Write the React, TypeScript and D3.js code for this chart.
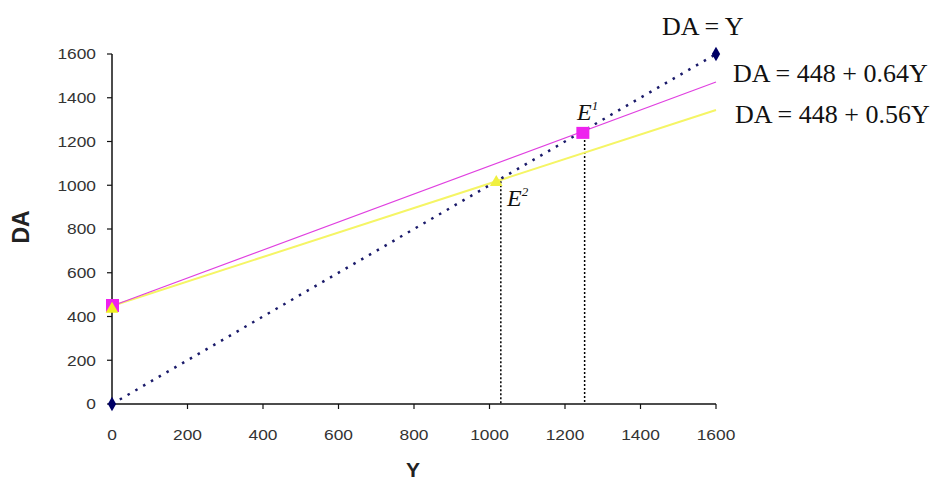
import React from "react";
import * as d3 from "d3";

const xTicks = [0, 200, 400, 600, 800, 1000, 1200, 1400, 1600];
const yTicks = [0, 200, 400, 600, 800, 1000, 1200, 1400, 1600];

// DA = Y (45-degree line)
const diagonalPts: [number, number][] = [[0, 0], [1600, 1600]];
// DA = 448 + 0.64Y
const daHighPts: [number, number][] = [[0, 448], [1600, 1472]];
// DA = 448 + 0.56Y
const daLowPts: [number, number][] = [[0, 448], [1600, 1344]];
// equilibria (marker position) and drop-line positions
const eq1: [number, number] = [1246, 1244];
const eq1Drop = 1252;
const eq2: [number, number] = [1018, 1018];
const eq2Drop = 1030;

const labels = {
  diag: "DA = Y",
  high: "DA = 448 + 0.64Y",
  low: "DA = 448 + 0.56Y",
  xTitle: "Y",
  yTitle: "DA",
};

export default function App() {
  const W = 948, H = 483;
  const x = d3.scaleLinear().domain([0, 1600]).range([112, 716]);
  const y = d3.scaleLinear().domain([0, 1600]).range([404, 54]);
  const line = d3.line<[number, number]>().x(d => x(d[0])).y(d => y(d[1]));
  const sansFont = "'Liberation Sans', Arial, sans-serif";
  const serifFont = "'Liberation Serif', 'Times New Roman', serif";
  const tri = d3.symbol().type(d3.symbolTriangle).size(70)();
  const diamond = d3.symbol().type(d3.symbolDiamond).size(60)();
  const tickStretch = 1.12;

  return (
    <svg width={W} height={H} style={{ position: "absolute", left: 0, top: 0, background: "#fff" }}>
      {/* axes */}
      <line x1={x(0)} x2={x(0)} y1={y(0)} y2={y(1600)} stroke="#111" strokeWidth={1.5} />
      <line x1={x(0)} x2={x(1600)} y1={y(0)} y2={y(0)} stroke="#111" strokeWidth={1.5} />
      {yTicks.map(t => (
        <g key={"y" + t}>
          <line x1={x(0) - 5} x2={x(0)} y1={y(t)} y2={y(t)} stroke="#111" strokeWidth={1.2} />
          <text transform={`translate(${x(0) - 16},${y(t)}) scale(${tickStretch},1)`} dy="0.35em" textAnchor="end" fontFamily={sansFont} fontSize={15.5} fill="#333">{t}</text>
        </g>
      ))}
      {xTicks.map(t => (
        <g key={"x" + t}>
          <line x1={x(t)} x2={x(t)} y1={y(0)} y2={y(0) + 5} stroke="#111" strokeWidth={1.2} />
          <text transform={`translate(${x(t)},${y(0) + 31}) scale(${tickStretch},1)`} dy="0.35em" textAnchor="middle" fontFamily={sansFont} fontSize={15.5} fill="#333">{t}</text>
        </g>
      ))}
      <text x={413} y={477} textAnchor="middle" fontFamily={sansFont} fontSize={21} fontWeight="bold" fill="#222">{labels.xTitle}</text>
      <text transform={`translate(21,227) rotate(-90)`} dy="0.35em" textAnchor="middle" fontFamily={sansFont} fontSize={23} fontWeight="bold" fill="#222">{labels.yTitle}</text>

      {/* vertical dotted drop lines */}
      <line x1={x(eq1Drop)} x2={x(eq1Drop)} y1={y(eq1[1])} y2={y(0)} stroke="#000" strokeWidth={1.5} strokeDasharray="2 2" />
      <line x1={x(eq2Drop)} x2={x(eq2Drop)} y1={y(eq2[1])} y2={y(0)} stroke="#000" strokeWidth={1.5} strokeDasharray="2 2" />

      {/* lines */}
      <path d={line(daLowPts) || ""} stroke="#f5f565" strokeWidth={2} fill="none" />
      <path d={line(daHighPts) || ""} stroke="#e040e0" strokeWidth={1.2} fill="none" />
      <path d={line(diagonalPts) || ""} stroke="#1a1a6a" strokeWidth={2.5} strokeDasharray="2.5 6.5" fill="none" />

      {/* markers */}
      <rect x={x(daHighPts[0][0]) - 6} y={y(daHighPts[0][1]) - 7} width={13} height={13} fill="#ee22ee" />
      <rect x={x(eq1[0]) - 6} y={y(eq1[1]) - 5} width={13} height={12} fill="#ee22ee" />
      <path d={tri || ""} transform={`translate(${x(daLowPts[0][0])},${y(daLowPts[0][1]) + 3})`} fill="#f0f020" />
      <path d={tri || ""} transform={`translate(${x(eq2[0])},${y(eq2[1]) + 1})`} fill="#f0f040" />
      <path d={diamond || ""} transform={`translate(${x(diagonalPts[0][0])},${y(diagonalPts[0][1])})`} fill="#000066" />
      <path d={diamond || ""} transform={`translate(${x(diagonalPts[1][0])},${y(diagonalPts[1][1])})`} fill="#000066" />

      {/* equilibrium labels */}
      <text x={577} y={120} fontFamily={serifFont} fontStyle="italic" fontSize={24} fill="#111">
        E<tspan dy={-10} fontSize={13}>1</tspan>
      </text>
      <text x={507} y={206} fontFamily={serifFont} fontStyle="italic" fontSize={24} fill="#111">
        E<tspan dy={-10} fontSize={13}>2</tspan>
      </text>

      {/* equation labels */}
      <text x={662} y={35} fontFamily={serifFont} fontSize={26} fill="#111">{labels.diag}</text>
      <text x={733} y={82} fontFamily={serifFont} fontSize={26} fill="#111">{labels.high}</text>
      <text x={735} y={123} fontFamily={serifFont} fontSize={26} fill="#111">{labels.low}</text>
    </svg>
  );
}
